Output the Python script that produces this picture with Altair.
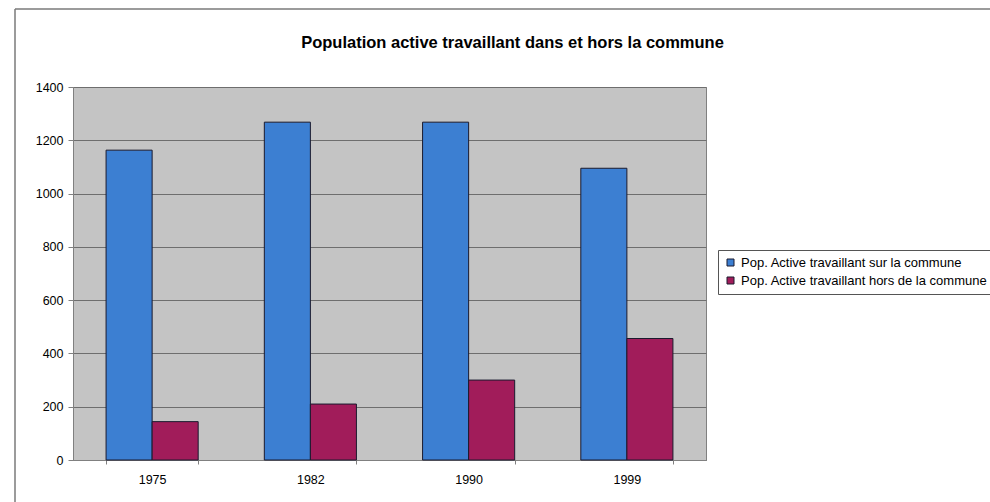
import altair as alt
import pandas as pd

years = ["1975", "1982", "1990", "1999"]
series = ["Pop. Active travaillant sur la commune", "Pop. Active travaillant hors de la commune"]
sur_commune = [1163, 1268, 1268, 1095]
hors_commune = [144, 210, 300, 456]

rows = []
for i, y in enumerate(years):
    rows.append({"annee": y, "serie": series[0], "valeur": sur_commune[i]})
    rows.append({"annee": y, "serie": series[1], "valeur": hors_commune[i]})
df = pd.DataFrame(rows)

FONT = "Liberation Sans, Arial, sans-serif"

bars = alt.Chart(df).mark_bar(stroke="#1a1a2e", strokeWidth=1).encode(
    x=alt.X("annee:N", sort=years, title=None,
            scale=alt.Scale(paddingInner=0.418, paddingOuter=0.209),
            axis=alt.Axis(labelAngle=0, tickBand="extent", tickSize=4, labelPadding=9,
                          domainColor="#808080", tickColor="#808080", labelFontSize=12.5,
                          labelColor="#000", labelFont=FONT, grid=False)),
    xOffset=alt.XOffset("serie:N", sort=series, scale=alt.Scale(paddingInner=0, paddingOuter=0)),
    y=alt.Y("valeur:Q", title=None,
            scale=alt.Scale(domain=[0, 1400], nice=False),
            axis=alt.Axis(values=[0, 200, 400, 600, 800, 1000, 1200, 1400], format="d", tickSize=5,
                          labelPadding=5, labelFontSize=12.5, labelColor="#000", labelFont=FONT,
                          gridColor="#6e6e6e", gridWidth=1, tickColor="#808080",
                          domainColor="#808080")),
    color=alt.Color("serie:N", sort=series,
                    scale=alt.Scale(domain=series, range=["#3c7fd2", "#a11c5a"]),
                    legend=alt.Legend(title=None, orient="none", legendX=645, legendY=163,
                                      symbolType="square", symbolSize=49,
                                      symbolStrokeColor="#1a1a2e", symbolStrokeWidth=1,
                                      labelFontSize=13, labelFont=FONT, labelColor="#000",
                                      labelLimit=400, rowPadding=4, padding=6,
                                      strokeColor="#555555", fillColor="#ffffff")),
)

frame_v = alt.Chart(pd.DataFrame({"a": [0]})).mark_rule(color="#7a7a7a", strokeWidth=1.5).encode(
    x=alt.value(-58), y=alt.value(-78), y2=alt.value(600))
frame_h = alt.Chart(pd.DataFrame({"a": [0]})).mark_rule(color="#7a7a7a", strokeWidth=1.5).encode(
    x=alt.value(-58), x2=alt.value(1000), y=alt.value(-78))

chart = alt.layer(bars, frame_v, frame_h).properties(
    width=633, height=373,
    autosize=alt.AutoSizeParams(type="none"),
    padding={"left": 73, "top": 87, "right": 284, "bottom": 42},
    background="white",
    title=alt.TitleParams("Population active travaillant dans et hors la commune",
                          font=FONT, fontSize=16.5, fontWeight="bold", color="#000",
                          anchor="middle", dx=123, dy=43, offset=0),
).configure_view(fill="#c4c4c4", stroke="#808080", strokeWidth=1)

chart.save("out.html", embed_options={"renderer": "svg", "actions": False})
